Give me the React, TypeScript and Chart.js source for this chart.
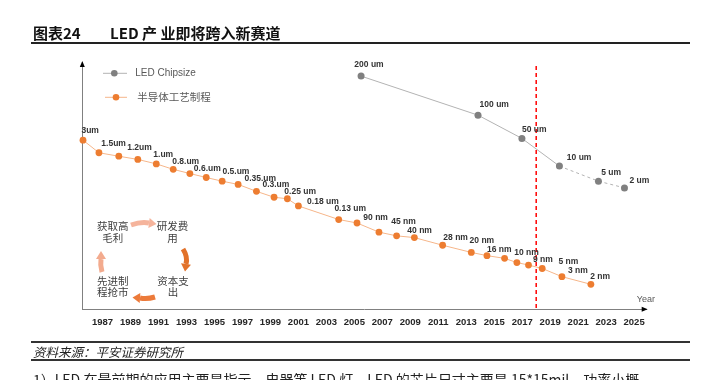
import React, { useEffect, useRef } from "react";
import { Chart, registerables } from "chart.js";

Chart.register(...registerables);

// ---------- data ----------
const TICK_YEARS = [1987, 1989, 1991, 1993, 1995, 1997, 1999, 2001, 2003, 2005, 2007, 2009, 2011, 2013, 2015, 2017, 2019, 2021, 2023, 2025];

const PROCESS_YEARS = [1985.6, 1986.74, 1988.16, 1989.52, 1990.84, 1992.05, 1993.24, 1994.41, 1995.55, 1996.69, 1998.0, 1999.26, 2000.21, 2001.0, 2003.88, 2005.19, 2006.76, 2008.02, 2009.29, 2011.31, 2013.36, 2014.48, 2015.74, 2016.62, 2017.45, 2018.43, 2019.84, 2021.91];
const PROCESS_LEVEL = [68.4, 63.3, 61.9, 60.6, 58.8, 56.6, 54.9, 53.3, 51.8, 50.5, 47.7, 45.3, 44.7, 41.8, 36.3, 34.9, 31.2, 29.7, 29.0, 25.9, 23.0, 21.7, 20.6, 18.9, 17.9, 16.5, 13.2, 10.1];
const PROCESS_LABELS = ["3um", "1.5um", "1.2um", "", "1.um", "0.8.um", "0.6.um", "", "0.5.um", "0.35.um", "0.3.um", "", "0.25 um", "0.18 um", "0.13 um", "90 nm", "45 nm", "", "40 nm", "28 nm", "20 nm", "16 nm", "", "10 nm", "9 nm", "5 nm", "3 nm", "2 nm"];

const CHIP_YEARS = [2005.48, 2013.84, 2016.98, 2019.66, 2022.45, 2024.31];
const CHIP_LEVEL = [94.3, 78.5, 69.1, 57.9, 51.8, 49.1];
const CHIP_LABELS = ["200 um", "100 um", "50 um", "10 um", "5 um", "2 um"];
const CHIP_DASH_FROM = 3; // segments after the 4th point are projected (dashed)

const DIVIDER_YEAR = 2018;
const SERIES_NAMES = ["LED Chipsize", "半导体工艺制程"];
const AXIS_NAME = "Year";
const CYCLE_TEXT = [["获取高", "毛利"], ["研发费", "用"], ["资本支", "出"], ["先进制", "程抢市"]];

const TITLE_NO = "图表24";
const TITLE = "LED 产 业即将跨入新赛道";
const SOURCE = "资料来源：平安证券研究所";
const BODY = "1）LED 在最前期的应用主要是指示、电器等 LED 灯，LED 的芯片尺寸主要是 15*15mil，功率小概";

// ---------- styles ----------
const ORANGE = "#ED7D31";
const ORANGE_LINE = "#F6B68A";
const GRAY_PT = "#808080";
const GRAY_LINE = "#B3B3B3";
const AXIS_COLOR = "#808080";
const LATIN = "'Liberation Sans', Arial, sans-serif";
const CJK = "'Noto Sans CJK SC', sans-serif";

// label placement relative to its point (left edge dx, vertical centre dy), in px
const PROCESS_LABEL_NUDGE: (number[] | null)[] = [
  [-1.6, -9.3], [2.4, -9.4], [8.4, -8.3], null, [-3, -9], [-1, -7.6], [4, -5], null,
  [0.3, -10], [6.3, -5.6], [6, -6.3], null, [-3, -7.2], [8.7, -4], [-4.3, -10.6], [6.3, -5.4],
  [12.3, -10.3], null, [-7, -7.3], [0.7, -7.7], [-1.7, -11.6], [0, -6.3], null, [-2.7, -10.3],
  [4.4, -5.7], [16.3, -6.6], [6, -6.3], [-0.7, -8],
];
const CHIP_LABEL_NUDGE: number[][] = [[-6.7, -11], [1.6, -10.7], [0, -9], [7.4, -8.7], [2.7, -8.7], [5, -7]];

function bandArrow(ctx: CanvasRenderingContext2D, s: number[], c: number[], e: number[], tip: number[], color: string, w: number, hw: number) {
  ctx.strokeStyle = color;
  ctx.fillStyle = color;
  ctx.lineWidth = w;
  ctx.lineCap = "butt";
  ctx.beginPath();
  ctx.moveTo(s[0], s[1]);
  ctx.quadraticCurveTo(c[0], c[1], e[0], e[1]);
  ctx.stroke();
  const ang = Math.atan2(tip[1] - e[1], tip[0] - e[0]);
  const px = -Math.sin(ang) * hw;
  const py = Math.cos(ang) * hw;
  ctx.beginPath();
  ctx.moveTo(tip[0], tip[1]);
  ctx.lineTo(e[0] + px, e[1] + py);
  ctx.lineTo(e[0] - px, e[1] - py);
  ctx.closePath();
  ctx.fill();
}

export default function App() {
  const ref = useRef<HTMLCanvasElement>(null);

  useEffect(() => {
    const canvas = ref.current!;

    const pointLabels = {
      id: "pointLabels",
      afterDatasetsDraw(chart: any) {
        const ctx = chart.ctx as CanvasRenderingContext2D;
        ctx.save();
        ctx.font = `bold 8.5px ${LATIN}`;
        ctx.fillStyle = "#333333";
        ctx.textBaseline = "middle";
        ctx.textAlign = "left";
        chart.data.datasets.forEach((ds: any, i: number) => {
          const meta = chart.getDatasetMeta(i);
          const labels: string[] = ds.pointLabels;
          const nudges: (number[] | null)[] = ds.labelNudge;
          meta.data.forEach((el: any, j: number) => {
            const n = nudges[j] || [1, -9];
            if (labels[j]) ctx.fillText(labels[j], el.x + n[0], el.y + n[1]);
          });
        });
        ctx.restore();
      },
    };

    const decor = {
      id: "decor",
      beforeDatasetsDraw(chart: any) {
        const ctx = chart.ctx as CanvasRenderingContext2D;
        const x = chart.scales.x;
        const area = chart.chartArea;
        const px = x.getPixelForValue(DIVIDER_YEAR);
        ctx.save();
        ctx.strokeStyle = "#FF0000";
        ctx.lineWidth = 1.5;
        ctx.setLineDash([4, 3]);
        ctx.beginPath();
        ctx.moveTo(px, area.top + 4);
        ctx.lineTo(px, area.bottom);
        ctx.stroke();
        ctx.restore();
      },
      afterDraw(chart: any) {
        const ctx = chart.ctx as CanvasRenderingContext2D;
        const area = chart.chartArea;
        ctx.save();
        // axis arrows
        ctx.fillStyle = "#000";
        ctx.beginPath();
        ctx.moveTo(area.right + 1, area.bottom);
        ctx.lineTo(area.right - 5, area.bottom - 2.5);
        ctx.lineTo(area.right - 5, area.bottom + 2.5);
        ctx.closePath();
        ctx.fill();
        ctx.beginPath();
        ctx.moveTo(area.left, area.top - 1);
        ctx.lineTo(area.left - 2.5, area.top + 5);
        ctx.lineTo(area.left + 2.5, area.top + 5);
        ctx.closePath();
        ctx.fill();
        // axis name
        ctx.font = `9px ${LATIN}`;
        ctx.fillStyle = "#595959";
        ctx.textBaseline = "middle";
        ctx.textAlign = "left";
        ctx.fillText(AXIS_NAME, area.right - 10, area.bottom - 10);

        // legend
        const items = [
          { y: 73.3, x0: 103, x1: 127, mx: 114.3, pt: GRAY_PT, ln: GRAY_LINE, tx: 135.3, font: `10px ${LATIN}` },
          { y: 97.3, x0: 105, x1: 127, mx: 116, pt: ORANGE, ln: ORANGE_LINE, tx: 137.3, font: `10.5px ${CJK}` },
        ];
        items.forEach((it, i) => {
          ctx.strokeStyle = it.ln;
          ctx.lineWidth = 1;
          ctx.beginPath();
          ctx.moveTo(it.x0, it.y);
          ctx.lineTo(it.x1, it.y);
          ctx.stroke();
          ctx.fillStyle = it.pt;
          ctx.beginPath();
          ctx.arc(it.mx, it.y, 3.3, 0, Math.PI * 2);
          ctx.fill();
          ctx.font = it.font;
          ctx.fillStyle = "#595959";
          ctx.textAlign = "left";
          ctx.textBaseline = "middle";
          ctx.fillText(SERIES_NAMES[i], it.tx, it.y);
        });

        // cycle diagram
        ctx.font = `10.5px ${CJK}`;
        ctx.fillStyle = "#404040";
        ctx.textAlign = "center";
        ctx.textBaseline = "middle";
        const spots = [[112.8, 226], [172.5, 226], [173, 280.7], [112.8, 280.7]];
        CYCLE_TEXT.forEach((lines, i) => {
          lines.forEach((t, k) => ctx.fillText(t, spots[i][0], spots[i][1] + k * 11.7));
        });
        bandArrow(ctx, [131, 225], [141, 221.5], [149, 223], [156.5, 224], "#F5B49C", 5, 5);
        bandArrow(ctx, [183, 249], [188, 257], [186, 264], [185, 271.5], "#E2722A", 5, 5);
        bandArrow(ctx, [155, 297], [147, 299.5], [140, 298], [132.5, 297.5], "#EC7A3A", 5, 5);
        bandArrow(ctx, [102, 272], [100, 265], [101, 259], [101, 251], "#F3AB8E", 5, 5);
        ctx.restore();
      },
    };

    const chart = new Chart(canvas, {
      type: "line",
      data: {
        datasets: [
          {
            label: SERIES_NAMES[0],
            data: CHIP_YEARS.map((x, i) => ({ x, y: CHIP_LEVEL[i] })),
            borderColor: GRAY_LINE,
            borderWidth: 1,
            pointBackgroundColor: GRAY_PT,
            pointBorderColor: GRAY_PT,
            pointBorderWidth: 0,
            pointRadius: 3.5,
            clip: false,
            segment: {
              borderDash: (c: any) => (c.p0DataIndex >= CHIP_DASH_FROM ? [3, 3] : undefined),
            },
            pointLabels: CHIP_LABELS,
            labelNudge: CHIP_LABEL_NUDGE,
          } as any,
          {
            label: SERIES_NAMES[1],
            data: PROCESS_YEARS.map((x, i) => ({ x, y: PROCESS_LEVEL[i] })),
            borderColor: ORANGE_LINE,
            borderWidth: 1,
            pointBackgroundColor: ORANGE,
            pointBorderColor: ORANGE,
            pointBorderWidth: 0,
            pointRadius: 3.4,
            clip: false,
            pointLabels: PROCESS_LABELS,
            labelNudge: PROCESS_LABEL_NUDGE,
          } as any,
        ],
      },
      options: {
        animation: false,
        responsive: false,
        devicePixelRatio: 1,
        layout: { padding: { left: 82.3, top: 62, right: 74.3, bottom: 0 } },
        plugins: { legend: { display: false }, tooltip: { enabled: false } },
        scales: {
          x: {
            type: "linear",
            min: 1985.55,
            max: 2025.9,
            afterBuildTicks: (axis: any) => {
              axis.ticks = TICK_YEARS.map((v) => ({ value: v }));
            },
            afterFit: (s: any) => {
              s.height = 70.7;
            },
            grid: { display: false, drawTicks: false },
            border: { display: true, color: AXIS_COLOR, width: 1 },
            ticks: {
              autoSkip: false,
              maxRotation: 0,
              padding: 7,
              color: "#262626",
              font: { family: "'Liberation Sans', Arial, sans-serif", size: 9.5, weight: "bold" },
              callback: (v: any) => String(v),
            },
          },
          y: {
            type: "linear",
            min: 0,
            max: 100,
            afterFit: (s: any) => {
              s.width = 0;
            },
            grid: { display: false, drawTicks: false },
            border: { display: true, color: AXIS_COLOR, width: 1 },
            ticks: { display: false },
          },
        },
      } as any,
      plugins: [decor, pointLabels],
    });
    return () => chart.destroy();
  }, []);

  return (
    <div style={{ position: "fixed", left: 0, top: 0, width: 721, height: 380, overflow: "hidden", background: "#fff" }}>
      <canvas ref={ref} width={721} height={380} style={{ position: "absolute", left: 0, top: 0, width: 721, height: 380 }} />
      <div style={{ position: "absolute", left: 33, top: 24, font: `bold 15px ${CJK}`, lineHeight: "18px", color: "#111", whiteSpace: "nowrap" }}>
        {TITLE_NO}
      </div>
      <div style={{ position: "absolute", left: 110, top: 24, font: `bold 15px ${CJK}`, lineHeight: "18px", color: "#111", whiteSpace: "pre" }}>
        {TITLE}
      </div>
      <div style={{ position: "absolute", left: 31, top: 42, width: 659, height: 2, background: "#222" }} />
      <div style={{ position: "absolute", left: 31, top: 341, width: 659, height: 2, background: "#333" }} />
      <div style={{ position: "absolute", left: 33, top: 344, font: `italic 12.5px ${CJK}`, lineHeight: "16px", color: "#222", whiteSpace: "nowrap" }}>
        {SOURCE}
      </div>
      <div style={{ position: "absolute", left: 31, top: 359, width: 659, height: 1.5, background: "#333" }} />
      <div style={{ position: "absolute", left: 33, top: 370, font: `14px ${CJK}`, lineHeight: "18px", color: "#222", whiteSpace: "nowrap" }}>
        {BODY}
      </div>
    </div>
  );
}
